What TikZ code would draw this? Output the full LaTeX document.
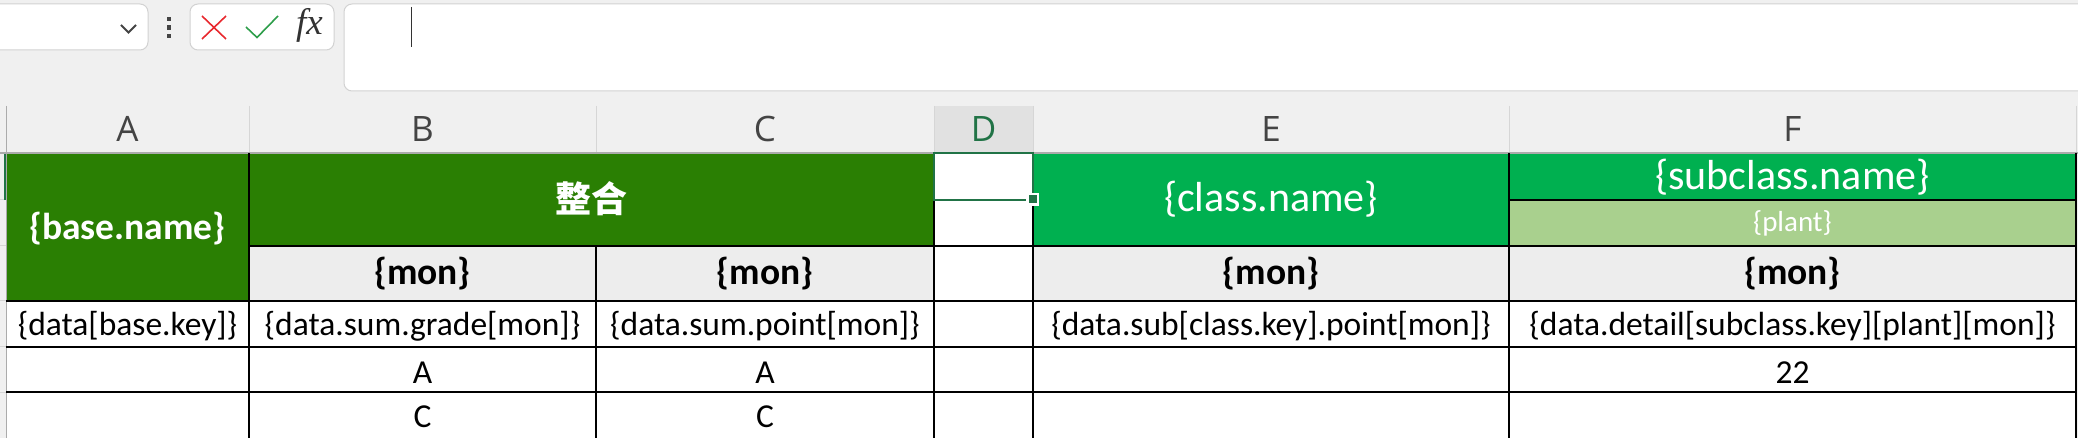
\documentclass[tikz,border=0pt]{standalone}
\usepackage{fontspec}
\setmainfont{Carlito}
\newfontfamily\hdrfont{Open Sans}
\newfontfamily\cjkfont{Noto Sans CJK SC}
\newfontfamily\fxfont{Liberation Serif}
\definecolor{barbg}{HTML}{F0F0F0}
\definecolor{boxline}{HTML}{D2D2D2}
\definecolor{hdrtxt}{HTML}{444444}
\definecolor{hdrline}{HTML}{D6D6D6}
\definecolor{hdrsel}{HTML}{E1E1E1}
\definecolor{selgreen}{HTML}{217346}
\definecolor{basegreen}{HTML}{2A7F03}
\definecolor{classgreen}{HTML}{00B050}
\definecolor{plantgreen}{HTML}{A9D08E}
\definecolor{mongray}{HTML}{EDEDED}
\definecolor{xred}{HTML}{E8282E}
\definecolor{vgreen}{HTML}{2E9E4A}

\begin{document}
\begin{tikzpicture}[
  x=1pt, y=-1pt,
  line width=1.3pt,
  celltxt/.style={anchor=base, inner sep=0pt, font=\fontsize{33.5}{40}\selectfont},
  montxt/.style={anchor=base, inner sep=0pt, font=\bfseries\fontsize{37.5}{44}\selectfont},
  headtxt/.style={anchor=base, inner sep=0pt, text=white, font=\fontsize{42}{50}\selectfont},
  colhdr/.style={anchor=base, inner sep=0pt, text=hdrtxt, font=\hdrfont\fontsize{35}{42}\selectfont},
  toolbox/.style={draw=boxline, fill=white, line width=1pt, rounded corners=8pt},
]

\useasboundingbox (0,0) rectangle (2078,438);
\fill[barbg] (0,0) rectangle (2078,438);

% toolbar
\draw[toolbox] (-12,4) rectangle (148,50);
\draw[hdrtxt, line width=1.8pt] (121,25) -- (128.5,32.5) -- (136,25);
\foreach \y in {19,27.5,36} {
  \fill[hdrtxt] (166.5,\y-2.2) rectangle (171,\y+2.2);
}
\draw[toolbox] (190,4) rectangle (334,50);
\draw[xred, line width=1.6pt] (202,16) -- (226,39) (226,16) -- (202,39);
\draw[vgreen, line width=1.6pt] (246,27) -- (257,37.5) -- (278,16);
\node[inner sep=0pt, anchor=base, text=black!80, font=\fxfont\itshape\fontsize{37}{42}\selectfont] (fx) at (309.5,35) {fx};
\draw[toolbox] (344,4) rectangle (2100,91);
\draw[black!80, line width=1pt] (411,7) -- (411,47);

% column headers
\fill[hdrsel] (934,106) rectangle (1033,153);
\foreach \x in {249,596,934,1033,1509,2076} {
  \draw[hdrline, line width=1pt] (\x,106) -- (\x,153);
}
\foreach \n/\x in {A/127.5,B/422.5,C/765,E/1271,F/1792.5} {
  \node[colhdr] (col\n) at (\x,142) {\n};
}
\node[colhdr, text=selgreen] (colD) at (983.5,142) {D};

% row header strip
\foreach \y in {200,246,301,347,392} {
  \draw[hdrline, line width=1pt] (0,\y) -- (6,\y);
}
\fill[selgreen] (3.5,153) rectangle (6.5,200);

% cell fills
\fill[white] (6,246) rectangle (2076,438);
\fill[basegreen] (6,153) rectangle (249,301);
\fill[basegreen] (249,153) rectangle (934,246);
\fill[white] (934,153) rectangle (1033,246);
\fill[classgreen] (1033,153) rectangle (2076,200);
\fill[classgreen] (1033,200) rectangle (1509,246);
\fill[plantgreen] (1509,200) rectangle (2076,246);
\fill[mongray] (249,246) rectangle (934,301);
\fill[mongray] (1033,246) rectangle (2076,301);
\draw[hdrline!80!black, line width=1.2pt] (0,153) -- (2078,153);
\draw[hdrline!80!black, line width=1pt] (6,106) -- (6,438);

% grid
\draw (249,246) -- (2076,246);
\draw (1509,200) -- (2076,200);
\foreach \y in {301,347,392} {
  \draw (6,\y) -- (2076,\y);
}
\draw (249,153) -- (249,438);
\draw (596,246) -- (596,438);
\foreach \x in {934,1033,1509,2076} {
  \draw (\x,153) -- (\x,438);
}

% selected cell
\draw[selgreen, line width=2.7pt] (934,153) rectangle (1033,200);
\fill[white] (1026,193) rectangle (1039,206);
\fill[selgreen] (1028.5,195.5) rectangle (1036.5,203.5);

% header texts
\node[montxt, text=white] (basename) at (127.5,240) {\{base.name\}};
\node[inner sep=0pt, text=white, font=\cjkfont\bfseries\fontsize{36}{42}\selectfont] (total) at (591.5,199) {整合};
\node[headtxt] (classname) at (1271,212) {\{class.name\}};
\node[headtxt] (subname) at (1792.5,190) {\{subclass.name\}};
\node[headtxt, font=\fontsize{29}{34}\selectfont] (plant) at (1792.5,232) {\{plant\}};
\foreach \n/\x in {B/422.5,C/765,E/1271,F/1792.5} {
  \node[montxt] (mon\n) at (\x,285) {\{mon\}};
}

% data rows
\node[celltxt] (dataA) at (127.5,335) {\{data[base.key]\}};
\node[celltxt] (dataB) at (422.5,335) {\{data.sum.grade[mon]\}};
\node[celltxt] (dataC) at (765,335) {\{data.sum.point[mon]\}};
\node[celltxt] (dataE) at (1271,335) {\{data.sub[class.key].point[mon]\}};
\node[celltxt] (dataF) at (1792.5,335) {\{data.detail[subclass.key][plant][mon]\}};
\node[celltxt] (gradeB) at (422.5,383) {A};
\node[celltxt] (gradeC) at (765,383) {A};
\node[celltxt] (pointF) at (1792.5,383) {22};
\node[celltxt] (lowB) at (422.5,427) {C};
\node[celltxt] (lowC) at (765,427) {C};

\end{tikzpicture}
\end{document}
